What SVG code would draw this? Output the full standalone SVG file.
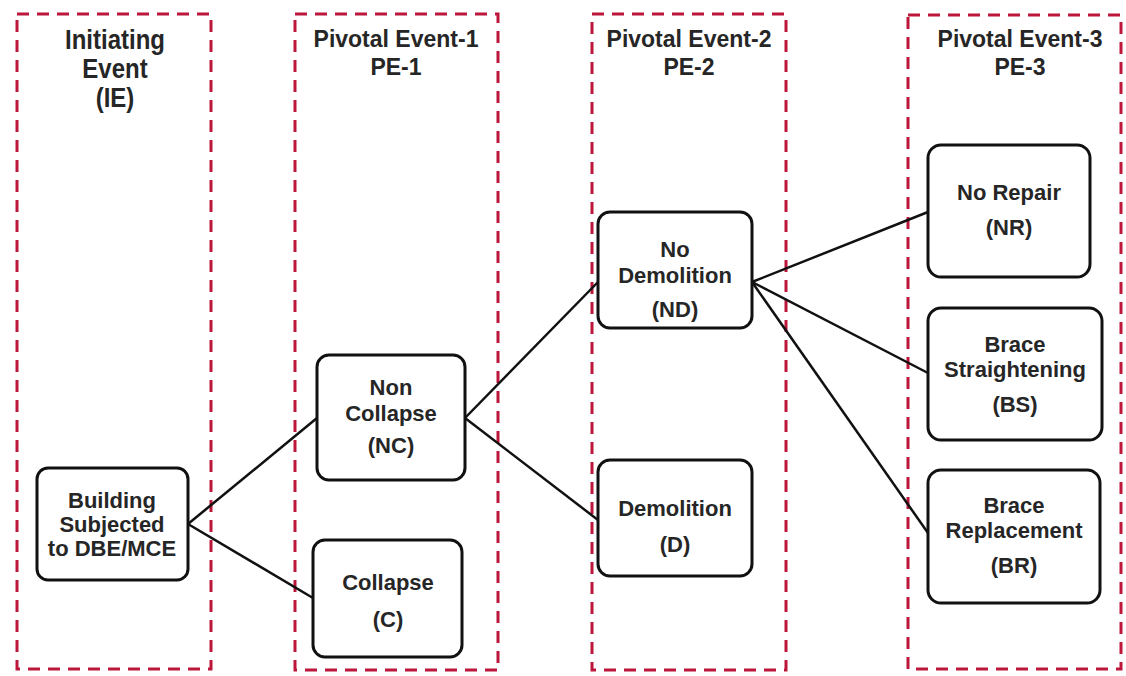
<svg xmlns="http://www.w3.org/2000/svg" width="1126" height="676" viewBox="0 0 1126 676">
  <style>
    .lane { fill: none; stroke: #bc163b; stroke-width: 3; stroke-dasharray: 12 8; }
    .node rect { fill: #ffffff; stroke: #111111; stroke-width: 3; }
    .hdr { font-family: "Liberation Sans", Arial, sans-serif; font-weight: bold; font-size: 23px; fill: #262626; text-anchor: middle; }
    .hdr.tall { font-size: 24px; transform-box: fill-box; transform-origin: 50% 50%; transform: scaleY(1.15); }
    .lbl { font-family: "Liberation Sans", Arial, sans-serif; font-weight: bold; font-size: 22px; fill: #262626; text-anchor: middle; }
    .conn line { stroke: #111111; stroke-width: 2.5; }
  </style>
  <rect width="1126" height="676" fill="#ffffff"/>

  <!-- event columns -->
  <g id="lanes">
    <rect class="lane" x="17" y="14" width="194" height="655"/>
    <rect class="lane" x="295" y="14" width="203" height="656"/>
    <rect class="lane" x="592" y="14" width="194" height="656"/>
    <rect class="lane" x="908" y="15" width="213" height="654"/>
  </g>

  <g id="headers">
    <text class="hdr tall" x="115" y="48">Initiating</text>
    <text class="hdr tall" x="115" y="77">Event</text>
    <text class="hdr tall" x="115" y="106">(IE)</text>
    <text class="hdr" x="396" y="47">Pivotal Event-1</text>
    <text class="hdr" x="396" y="75">PE-1</text>
    <text class="hdr" x="689" y="47">Pivotal Event-2</text>
    <text class="hdr" x="689" y="75">PE-2</text>
    <text class="hdr" x="1020" y="47">Pivotal Event-3</text>
    <text class="hdr" x="1020" y="75">PE-3</text>
  </g>

  <!-- branch connectors -->
  <g id="connectors" class="conn">
    <line x1="188" y1="524" x2="317" y2="418"/>
    <line x1="188" y1="524" x2="313" y2="598"/>
    <line x1="465" y1="418" x2="598" y2="282"/>
    <line x1="465" y1="418" x2="598" y2="520"/>
    <line x1="752" y1="282" x2="928" y2="212"/>
    <line x1="752" y1="282" x2="928" y2="373"/>
    <line x1="752" y1="282" x2="928" y2="533"/>
  </g>

  <g id="node-ie" class="node">
    <rect x="37" y="468" width="151" height="112" rx="11"/>
    <text class="lbl" x="112" y="508">Building</text>
    <text class="lbl" x="112" y="532">Subjected</text>
    <text class="lbl" x="112" y="556">to DBE/MCE</text>
  </g>

  <g id="node-nc" class="node">
    <rect x="317" y="355" width="148" height="125" rx="12"/>
    <text class="lbl" x="391" y="395">Non</text>
    <text class="lbl" x="391" y="421">Collapse</text>
    <text class="lbl" x="391" y="453">(NC)</text>
  </g>

  <g id="node-c" class="node">
    <rect x="313" y="540" width="149" height="117" rx="12"/>
    <text class="lbl" x="388" y="590">Collapse</text>
    <text class="lbl" x="388" y="627">(C)</text>
  </g>

  <g id="node-nd" class="node">
    <rect x="598" y="212" width="154" height="116" rx="12"/>
    <text class="lbl" x="675" y="257">No</text>
    <text class="lbl" x="675" y="283">Demolition</text>
    <text class="lbl" x="675" y="317">(ND)</text>
  </g>

  <g id="node-d" class="node">
    <rect x="598" y="460" width="154" height="116" rx="12"/>
    <text class="lbl" x="675" y="516">Demolition</text>
    <text class="lbl" x="675" y="552">(D)</text>
  </g>

  <g id="node-nr" class="node">
    <rect x="928" y="145" width="162" height="132" rx="13"/>
    <text class="lbl" x="1009" y="200">No Repair</text>
    <text class="lbl" x="1009" y="235">(NR)</text>
  </g>

  <g id="node-bs" class="node">
    <rect x="928" y="308" width="174" height="132" rx="13"/>
    <text class="lbl" x="1015" y="352">Brace</text>
    <text class="lbl" x="1015" y="377">Straightening</text>
    <text class="lbl" x="1015" y="412">(BS)</text>
  </g>

  <g id="node-br" class="node">
    <rect x="928" y="470" width="172" height="133" rx="13"/>
    <text class="lbl" x="1014" y="513">Brace</text>
    <text class="lbl" x="1014" y="538">Replacement</text>
    <text class="lbl" x="1014" y="573">(BR)</text>
  </g>
</svg>
